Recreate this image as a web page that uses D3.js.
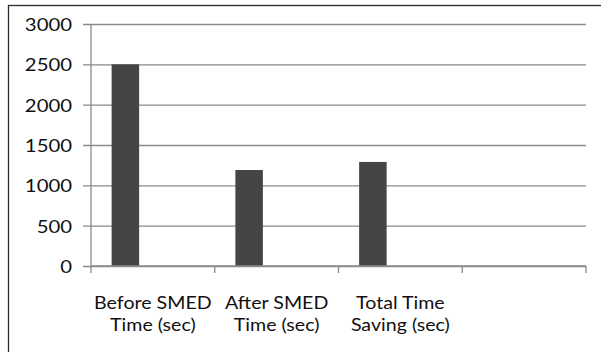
<!DOCTYPE html>
<html>
<head>
<meta charset="utf-8">
<script src="https://cdn.jsdelivr.net/npm/d3@7"></script>
<style>
  html, body { margin: 0; padding: 0; background: #fff; }
  svg { display: block; }
  text { font-family: Lato, "Open Sans", sans-serif; fill: #111; }
</style>
</head>
<body>
<svg id="chart" width="601" height="352"></svg>
<script>
// Category labels (each split over two lines); the fourth slot is left empty
const categories = ["Before SMED\nTime (sec)", "After SMED\nTime (sec)", "Total Time\nSaving (sec)", ""];
// Three series share each category slot; only the first carries values
const seriesNames = ["Series1", "Series2", "Series3"];
const series1 = [2500, 1190, 1290, null];
const yTicks = [0, 500, 1000, 1500, 2000, 2500, 3000];

const svg = d3.select("#chart");
const W = 601, H = 352;
const plot = { left: 91, right: 586, top: 24, bottom: 266 };
const fontSize = 18, stretchY = 1.13, stretchX = 1.09;

// Outer chart-area frame
svg.append("rect")
  .attr("x", 8.5).attr("y", 5.5)
  .attr("width", W + 20).attr("height", H + 20)
  .attr("fill", "#fff").attr("stroke", "#2b2b2b").attr("stroke-width", 1.3);

const x0 = d3.scaleBand().domain(d3.range(categories.length))
  .range([plot.left, plot.right]).paddingInner(0).paddingOuter(0);
const x1 = d3.scaleBand().domain(seriesNames)
  .range([0, x0.bandwidth()]).paddingInner(0).paddingOuter(0.75);
const y = d3.scaleLinear().domain([0, 3000]).range([plot.bottom, plot.top]);

// Horizontal gridlines with short ticks to the left of the axis
const yAxis = d3.axisLeft(y).tickValues(yTicks)
  .tickSize(-(plot.right - plot.left)).tickSizeOuter(0).tickPadding(10)
  .tickFormat(d3.format("d"));
const gy = svg.append("g").attr("transform", `translate(${plot.left},0)`).call(yAxis);
gy.select(".domain").remove();
gy.selectAll(".tick line").attr("x1", -8).attr("stroke", "#8a8a8a").attr("stroke-width", 1.3);
gy.selectAll(".tick text")
  .attr("font-size", fontSize).attr("dy", "0.36em").attr("x", 0)
  .attr("transform", `translate(-19,0) scale(${stretchY},1)`);

// Bars of the first series
svg.append("g").selectAll("rect")
  .data(series1.map((v, i) => ({ v, i })).filter(d => d.v != null))
  .join("rect")
  .attr("x", d => x0(d.i) + x1("Series1"))
  .attr("y", d => y(d.v))
  .attr("width", x1.bandwidth())
  .attr("height", d => y(0) - y(d.v))
  .attr("fill", "#454545");

// Value axis line
svg.append("line")
  .attr("x1", plot.left).attr("x2", plot.left)
  .attr("y1", plot.top).attr("y2", plot.bottom)
  .attr("stroke", "#8a8a8a").attr("stroke-width", 1.3);

// Category axis with tick marks on band boundaries
const gx = svg.append("g").attr("transform", `translate(0,${plot.bottom})`);
gx.append("line").attr("x1", plot.left).attr("x2", plot.right)
  .attr("stroke", "#8a8a8a").attr("stroke-width", 1.3);
const bounds = categories.map((c, i) => x0(i)).concat([plot.right]);
gx.selectAll("line.tk").data(bounds).join("line").attr("class", "tk")
  .attr("x1", d => d).attr("x2", d => d).attr("y1", 0).attr("y2", 7)
  .attr("stroke", "#8a8a8a").attr("stroke-width", 1.3);

// Two-line category labels, one text element per line
const catLines = categories.flatMap((c, i) =>
  c ? c.split("\n").map((t, j) => ({ t, i, j })) : []);
gx.selectAll("text.cat").data(catLines).join("text").attr("class", "cat")
  .attr("text-anchor", "middle").attr("font-size", fontSize)
  .attr("transform", d =>
    `translate(${x0(d.i) + x0.bandwidth() / 2},${43 + d.j * 22}) scale(${stretchX},1)`)
  .text(d => d.t);
</script>
</body>
</html>
